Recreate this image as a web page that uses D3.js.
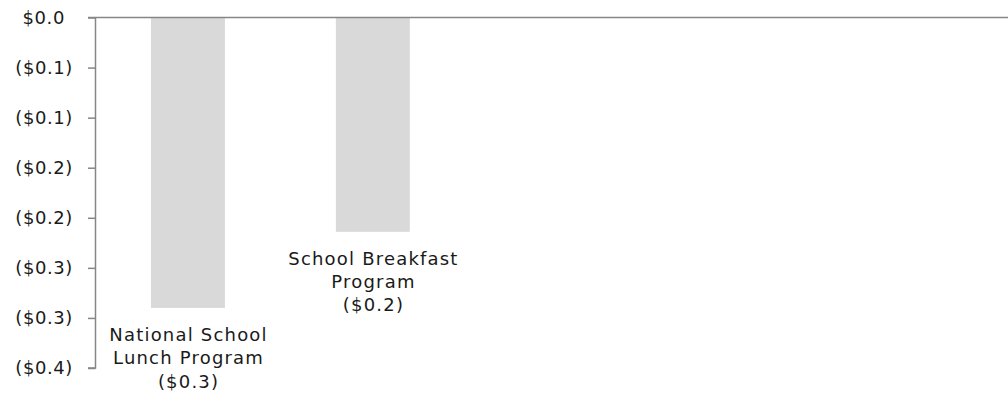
<!DOCTYPE html>
<html><head><meta charset="utf-8">
<script src="https://cdn.jsdelivr.net/npm/d3@7"></script>
<style>
html,body{margin:0;padding:0;background:#fff;}
svg text{font-family:"DejaVu Sans",sans-serif;fill:#1a1a1a;}
</style></head>
<body><svg id="chart" width="1008" height="404"></svg>
<script>
const categories = [["National School", "Lunch Program"], ["School Breakfast", "Program"]];
const values = [-0.29, -0.214];
const tickValues = [0, -0.05, -0.10, -0.15, -0.20, -0.25, -0.30, -0.35];
const slots = 5;

(function () {
const svg = d3.select("#chart");
const mLeft = 95.5, mTop = 17.5, mBottom = 368, mRight = 1020;
const fontSize = "18px", spacing = "1.2px";

const y = d3.scaleLinear().domain([0, -0.35]).range([mTop, mBottom]);
const x = d3.scaleBand().domain(d3.range(slots)).range([mLeft, mRight]).paddingInner(0.6).paddingOuter(0.3);

const fmt = v => {
  const s = "$" + (Math.round(Math.abs(v) * 10 + 1e-9) / 10).toFixed(1);
  return v < -1e-9 ? "(" + s + ")" : s;
};

svg.selectAll("rect.bar").data(values).join("rect")
  .attr("class", "bar")
  .attr("x", (d, i) => x(i))
  .attr("y", y(0))
  .attr("width", x.bandwidth())
  .attr("height", d => y(d) - y(0))
  .attr("fill", "#d9d9d9");

svg.append("line").attr("x1", 88).attr("x2", 1008).attr("y1", y(0)).attr("y2", y(0))
  .attr("stroke", "#868686").attr("stroke-width", 1.5);

const yAxis = d3.axisLeft(y).tickValues(tickValues).tickSize(7.5).tickFormat(fmt);
const g = svg.append("g").attr("transform", `translate(${mLeft},0)`).call(yAxis);
g.select(".domain").attr("stroke", "#868686").attr("stroke-width", 1.5).attr("d", `M-7.5,${y(-0.35)}H0V${y(0)}`);
g.selectAll(".tick line").attr("stroke", "#868686").attr("stroke-width", 1.5);
g.selectAll(".tick text")
  .style("font-family", '"DejaVu Sans",sans-serif')
  .style("font-size", fontSize)
  .style("letter-spacing", "0.6px")
  .attr("fill", "#1a1a1a")
  .attr("x", d => d < -1e-9 ? -22.5 : -30.5);

values.forEach((v, i) => {
  const cx = x(i) + x.bandwidth() / 2 + 0.6;
  const lines = categories[i].concat([fmt(v)]);
  const t = svg.append("text").attr("text-anchor", "middle")
    .style("font-size", fontSize).style("letter-spacing", spacing);
  lines.forEach((ln, j) => {
    t.append("tspan").attr("x", cx).attr("y", y(v) + 33 + j * 23.3).text(ln);
  });
});
})();
</script></body></html>
